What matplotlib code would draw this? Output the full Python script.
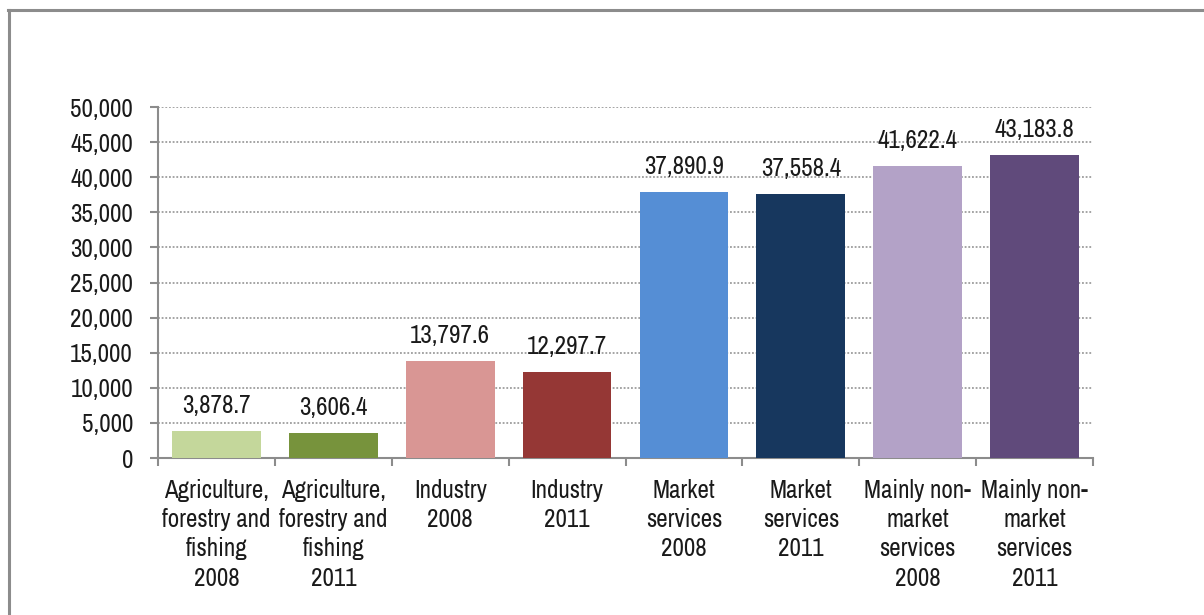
import matplotlib
matplotlib.use("Agg")
import matplotlib.pyplot as plt
from matplotlib.lines import Line2D
from matplotlib import font_manager

names = {f.name for f in font_manager.fontManager.ttflist}
fam = next((n for n in ['Liberation Sans Narrow', 'Arial Narrow', 'Archivo Narrow', 'PT Sans Narrow']
            if n in names), 'Liberation Sans')
plt.rcParams['font.family'] = [fam, 'DejaVu Sans']

categories = ["Agriculture,\nforestry and\nfishing\n2008", "Agriculture,\nforestry and\nfishing\n2011",
              "Industry\n2008", "Industry\n2011", "Market\nservices\n2008", "Market\nservices\n2011",
              "Mainly non-\nmarket\nservices\n2008", "Mainly non-\nmarket\nservices\n2011"]
values = [3878.7, 3606.4, 13797.6, 12297.7, 37890.9, 37558.4, 41622.4, 43183.8]
colors = ["#C4D79B", "#77933C", "#D99694", "#953735", "#558ED5", "#17375E", "#B3A2C7", "#604A7B"]
yticks = list(range(0, 50001, 5000))

W, H = 1204, 615
FS = 18
fig = plt.figure(figsize=(W/100, H/100), dpi=100)
ax = fig.add_axes([158/W, 1-458/H, (1093-158)/W, (458-107)/H])

x = list(range(len(values)))
ax.bar(x, values, width=0.76, color=colors, zorder=3)
for xi, v in zip(x, values):
    ax.annotate(f"{v:,.1f}", (xi, v), xytext=(0, 10), textcoords='offset points',
                ha='center', va='bottom', fontsize=FS, color='#1a1a1a', zorder=4)

ax.set_xlim(-0.5, len(values)-0.5)
ax.set_ylim(0, 50000)
ax.set_yticks(yticks)
ax.set_yticklabels([f"{t:,}" for t in yticks], fontsize=FS, color='#1a1a1a')
ax.yaxis.grid(True, linestyle=(0, (1.2, 1.2)), color='#8c8c8c', linewidth=1.1, zorder=0)
ax.set_xticks([i - 0.5 for i in range(len(values)+1)])
ax.set_xticklabels([])
ax.set_xticks(x, minor=True)
ax.set_xticklabels(categories, minor=True, fontsize=FS, color='#1a1a1a', linespacing=1.33)
ax.tick_params(axis='x', which='minor', length=0, pad=15)
ax.tick_params(axis='x', which='major', length=6, width=1.5, color='#8c8c8c', direction='out')
ax.tick_params(axis='y', length=6, width=1.5, color='#8c8c8c', direction='out', pad=12)
for s in ['top', 'right']:
    ax.spines[s].set_visible(False)
for s in ['left', 'bottom']:
    ax.spines[s].set_color('#8c8c8c')
    ax.spines[s].set_linewidth(1.5)

# outer frame
fig.add_artist(Line2D([9/W, 9/W], [0, 1-9.5/H], transform=fig.transFigure, color='#8c8c8c', lw=2.2))
fig.add_artist(Line2D([8/W, 1], [1-9.5/H, 1-9.5/H], transform=fig.transFigure, color='#8c8c8c', lw=2.2))

fig.savefig("out.png", dpi=100)
